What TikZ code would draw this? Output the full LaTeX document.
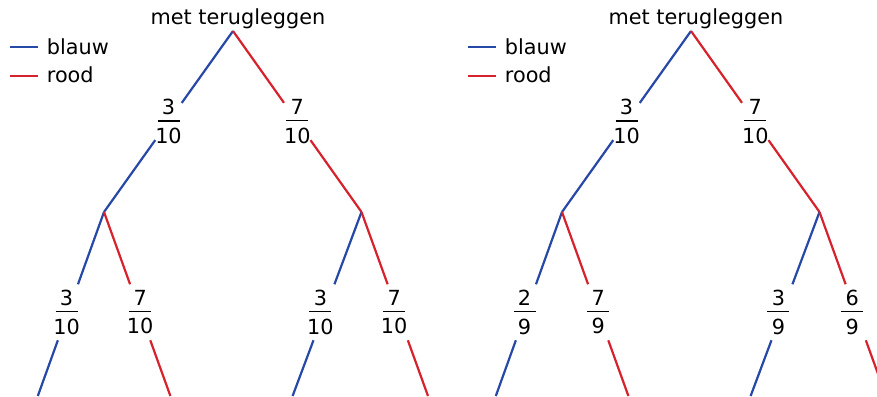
\documentclass[tikz,border=0pt]{standalone}
\usepackage{fontspec}
\setmainfont{DejaVu Sans}
\usetikzlibrary{calc}

\definecolor{treeblue}{RGB}{38,72,166}
\definecolor{treered}{RGB}{214,34,44}

% stacked fraction: numerator, fixed-width bar, denominator;
% optional argument nudges the digits to the left
\newcommand\frc[3][0pt]{\hspace*{-#1}\vbox{\offinterlineskip
  \hbox to 26pt{\hss#2\hss}\vskip5.3pt
  \hbox to 26pt{\hss\rule{22pt}{1.3pt}\hss}\vskip6.4pt
  \hbox to 26pt{\hss#3\hss}}\hspace*{#1}}

\tikzset{
  branch/.style={line width=2.2pt},
  bl/.style={branch, treeblue},
  rd/.style={branch, treered},
  prob/.style={inner sep=0pt, outer sep=0pt, minimum width=26.5pt, minimum height=56pt},
  txt/.style={inner sep=0pt, anchor=base},
}

\begin{document}
\begin{tikzpicture}[x=1pt, y=-1pt, font=\fontsize{20.8pt}{25pt}\selectfont]
\clip (0,0) rectangle (877,396);

% ---------- left tree ----------
\node[txt] (t1) at (238,25) {met terugleggen};
\coordinate (r1) at (233,31);
\coordinate (a1) at (104,212);
\coordinate (b1) at (361.5,212);
\coordinate (a1l) at (37.8,396);
\coordinate (a1r) at (170.4,396);
\coordinate (b1l) at (292.6,396);
\coordinate (b1r) at (428,396);

\draw[bl] (10,46.7) coordinate (k1b) -- (38.3,46.7) coordinate (k1be);
\node[txt, anchor=base west] (k1bt) at (46.7,54.3) {blauw};
\draw[rd] (10,76) coordinate (k1r) -- (38.3,76) coordinate (k1re);
\node[txt, anchor=base west] (k1rt) at (46.7,82.7) {rood};

\node[prob] (p1a) at ($(r1)!0.5!(a1)$) {\frc{3}{10}};
\node[prob] (p1b) at ($(r1)!0.5!(b1)$) {\frc{7}{10}};
\node[prob] (p1al) at ($(a1)!0.545!(a1l)$) {\frc[1.4pt]{3}{10}};
\node[prob] (p1ar) at ($(a1)!0.545!(a1r)$) {\frc{7}{10}};
\node[prob] (p1bl) at ($(b1)!0.545!(b1l)$) {\frc[3.5pt]{3}{10}};
\node[prob] (p1br) at ($(b1)!0.545!(b1r)$) {\frc[3.6pt]{7}{10}};

\draw[bl] (r1) -- (p1a) (p1a) -- (a1);
\draw[rd] (r1) -- (p1b) (p1b) -- (b1);
\draw[bl] (a1) -- (p1al) (p1al) -- (a1l);
\draw[rd] (a1) -- (p1ar) (p1ar) -- (a1r);
\draw[bl] (b1) -- (p1bl) (p1bl) -- (b1l);
\draw[rd] (b1) -- (p1br) (p1br) -- (b1r);

% ---------- right tree ----------
\begin{scope}[xshift=458pt]
\node[txt] (t2) at (238,25) {met terugleggen};
\coordinate (r2) at (233,31);
\coordinate (a2) at (104,212);
\coordinate (b2) at (361.5,212);
\coordinate (a2l) at (37.8,396);
\coordinate (a2r) at (170.4,396);
\coordinate (b2l) at (292.6,396);
\coordinate (b2r) at (428,396);

\draw[bl] (10,46.7) coordinate (k2b) -- (38.3,46.7) coordinate (k2be);
\node[txt, anchor=base west] (k2bt) at (46.7,54.3) {blauw};
\draw[rd] (10,76) coordinate (k2r) -- (38.3,76) coordinate (k2re);
\node[txt, anchor=base west] (k2rt) at (46.7,82.7) {rood};

\node[prob] (p2a) at ($(r2)!0.5!(a2)$) {\frc{3}{10}};
\node[prob] (p2b) at ($(r2)!0.5!(b2)$) {\frc{7}{10}};
\node[prob] (p2al) at ($(a2)!0.545!(a2l)$) {\frc[1.4pt]{2}{9}};
\node[prob] (p2ar) at ($(a2)!0.545!(a2r)$) {\frc{7}{9}};
\node[prob] (p2bl) at ($(b2)!0.545!(b2l)$) {\frc[3.5pt]{3}{9}};
\node[prob] (p2br) at ($(b2)!0.545!(b2r)$) {\frc[3.6pt]{6}{9}};

\draw[bl] (r2) -- (p2a) (p2a) -- (a2);
\draw[rd] (r2) -- (p2b) (p2b) -- (b2);
\draw[bl] (a2) -- (p2al) (p2al) -- (a2l);
\draw[rd] (a2) -- (p2ar) (p2ar) -- (a2r);
\draw[bl] (b2) -- (p2bl) (p2bl) -- (b2l);
\draw[rd] (b2) -- (p2br) (p2br) -- (b2r);
\end{scope}
\end{tikzpicture}
\end{document}
